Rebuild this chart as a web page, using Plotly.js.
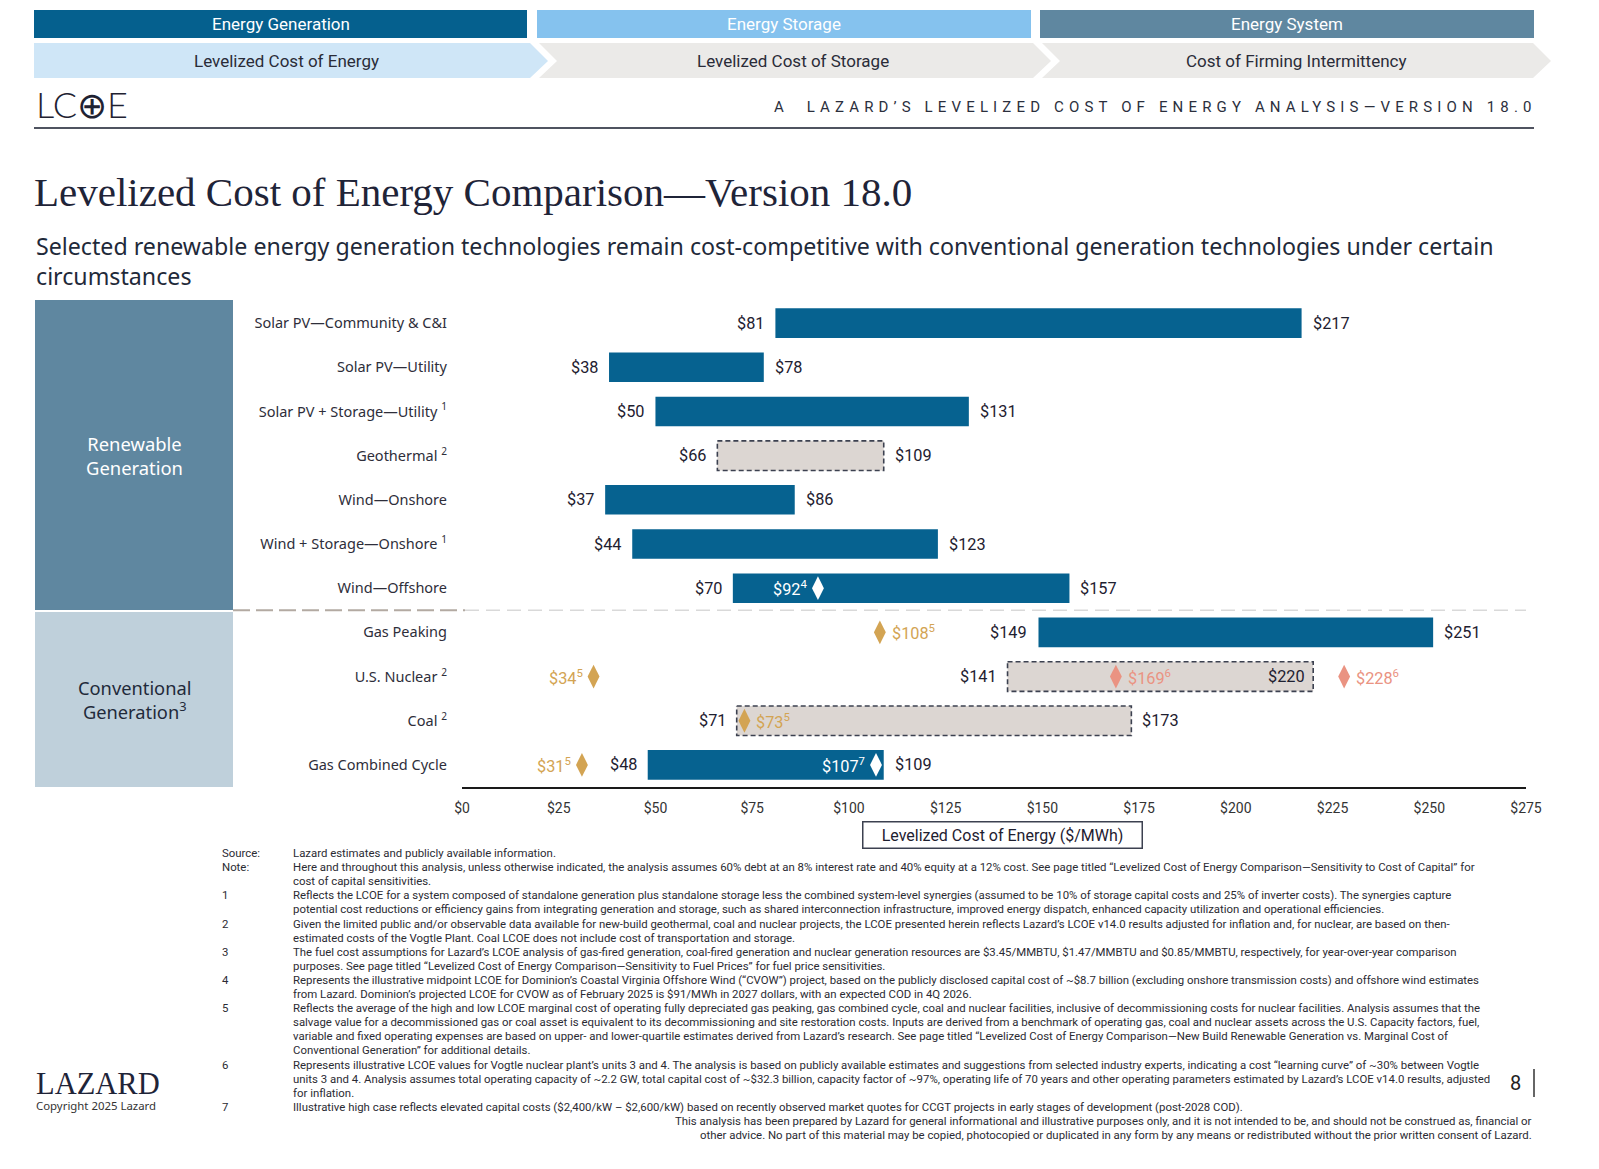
<!DOCTYPE html>
<html><head><meta charset="utf-8">
<script src="https://cdn.plot.ly/plotly-3.0.1.min.js"></script>
<style>html,body{margin:0;padding:0;background:#fff;}#chart{width:1599px;height:1169px;}</style>
</head><body><div id="chart"></div>
<script>
// ---------------- DATA ----------------
const categories = ["Solar PV—Community & C&I","Solar PV—Utility","Solar PV + Storage—Utility","Geothermal","Wind—Onshore","Wind + Storage—Onshore","Wind—Offshore","Gas Peaking","U.S. Nuclear","Coal","Gas Combined Cycle"];
const categoryNotes = ["","","1","2","","1","","","2","2",""];
const lowValues  = [81,38,50,66,37,44,70,149,141,71,48];
const highValues = [217,78,131,109,86,123,157,251,220,173,109];
const rangeType  = ["solid","solid","solid","dashed","solid","solid","solid","solid","dashed","dashed","solid"];
const groupNames = ["Renewable<br>Generation","Conventional<br>Generation<sup>3</sup>"];

const midpointCategories = ["Wind—Offshore","Gas Combined Cycle"];
const midpointValues = [92,107];
const midpointNotes  = ["4","7"];
const marginalCategories = ["Gas Peaking","U.S. Nuclear","Coal","Gas Combined Cycle"];
const marginalValues = [108,34,73,31];
const marginalNotes  = ["5","5","5","5"];
const vogtleCategories = ["U.S. Nuclear","U.S. Nuclear"];
const vogtleValues = [169,228];
const vogtleNotes  = ["6","6"];

const xTickValues = [0,25,50,75,100,125,150,175,200,225,250,275];
const xTickLabels = ["$0","$25","$50","$75","$100","$125","$150","$175","$200","$225","$250","$275"];

const headerTabs = ["Energy Generation","Energy Storage","Energy System"];
const headerSteps = ["Levelized Cost of Energy","Levelized Cost of Storage","Cost of Firming Intermittency"];

const footnotes = [
 ["Source:","Lazard estimates and publicly available information."],
 ["Note:","Here and throughout this analysis, unless otherwise indicated, the analysis assumes 60% debt at an 8% interest rate and 40% equity at a 12% cost. See page titled “Levelized Cost of Energy Comparison—Sensitivity to Cost of Capital” for"],
 ["","cost of capital sensitivities."],
 ["1","Reflects the LCOE for a system composed of standalone generation plus standalone storage less the combined system-level synergies (assumed to be 10% of storage capital costs and 25% of inverter costs). The synergies capture"],
 ["","potential cost reductions or efficiency gains from integrating generation and storage, such as shared interconnection infrastructure, improved energy dispatch, enhanced capacity utilization and operational efficiencies."],
 ["2","Given the limited public and/or observable data available for new-build geothermal, coal and nuclear projects, the LCOE presented herein reflects Lazard’s LCOE v14.0 results adjusted for inflation and, for nuclear, are based on then-"],
 ["","estimated costs of the Vogtle Plant. Coal LCOE does not include cost of transportation and storage."],
 ["3","The fuel cost assumptions for Lazard’s LCOE analysis of gas-fired generation, coal-fired generation and nuclear generation resources are $3.45/MMBTU, $1.47/MMBTU and $0.85/MMBTU, respectively, for year-over-year comparison"],
 ["","purposes. See page titled “Levelized Cost of Energy Comparison—Sensitivity to Fuel Prices” for fuel price sensitivities."],
 ["4","Represents the illustrative midpoint LCOE for Dominion’s Coastal Virginia Offshore Wind (“CVOW”) project, based on the publicly disclosed capital cost of ~$8.7 billion (excluding onshore transmission costs) and offshore wind estimates"],
 ["","from Lazard. Dominion’s projected LCOE for CVOW as of February 2025 is $91/MWh in 2027 dollars, with an expected COD in 4Q 2026."],
 ["5","Reflects the average of the high and low LCOE marginal cost of operating fully depreciated gas peaking, gas combined cycle, coal and nuclear facilities, inclusive of decommissioning costs for nuclear facilities. Analysis assumes that the"],
 ["","salvage value for a decommissioned gas or coal asset is equivalent to its decommissioning and site restoration costs. Inputs are derived from a benchmark of operating gas, coal and nuclear assets across the U.S. Capacity factors, fuel,"],
 ["","variable and fixed operating expenses are based on upper- and lower-quartile estimates derived from Lazard’s research. See page titled “Levelized Cost of Energy Comparison—New Build Renewable Generation vs. Marginal Cost of"],
 ["","Conventional Generation” for additional details."],
 ["6","Represents illustrative LCOE values for Vogtle nuclear plant’s units 3 and 4. The analysis is based on publicly available estimates and suggestions from selected industry experts, indicating a cost “learning curve” of ~30% between Vogtle"],
 ["","units 3 and 4. Analysis assumes total operating capacity of ~2.2 GW, total capital cost of ~$32.3 billion, capacity factor of ~97%, operating life of 70 years and other operating parameters estimated by Lazard’s LCOE v14.0 results, adjusted"],
 ["","for inflation."],
 ["7","Illustrative high case reflects elevated capital costs ($2,400/kW – $2,600/kW) based on recently observed market quotes for CCGT projects in early stages of development (post-2028 COD)."]
];
const disclaimer = [
 "This analysis has been prepared by Lazard for general informational and illustrative purposes only, and it is not intended to be, and should not be construed as, financial or",
 "other advice. No part of this material may be copied, photocopied or duplicated in any form by any means or redistributed without the prior written consent of Lazard."
];

// ---------------- STYLE / LAYOUT ----------------
const W=1599, H=1169, L=462, R=1526, T=301, B=787;
const px = X => (X-L)/(R-L);
const py = Y => (B-Y)/(B-T);
const BLUE="#066290", GOLD="#D3A453", PINK="#EA9382", BOXFILL="#DCD6D2", INK="#1E2030";
const SANS="Roboto, 'Liberation Sans', sans-serif";
const NOTO="'Noto Sans', 'Open Sans', sans-serif";
const halfBar = 0.335;
const highInside = categories.map(c => c === "U.S. Nuclear");

const idx = c => categories.indexOf(c);
const sup = n => n ? "<sup>"+n+"</sup>" : "";

const traces = [];
const solid = categories.map((c,i)=>i).filter(i=>rangeType[i]==="solid");
traces.push({type:"bar", orientation:"h", y: solid, base: solid.map(i=>lowValues[i]),
  x: solid.map(i=>highValues[i]-lowValues[i]), width: 2*halfBar,
  marker:{color:BLUE, line:{width:0}}, hoverinfo:"skip", showlegend:false});
categories.forEach((c,i)=>{
  if (rangeType[i]!=="dashed") return;
  traces.push({type:"scatter", mode:"lines", x:[lowValues[i],highValues[i],highValues[i],lowValues[i],lowValues[i]],
    y:[i-halfBar,i-halfBar,i+halfBar,i+halfBar,i-halfBar], fill:"toself", fillcolor:BOXFILL,
    line:{color:"#3C4150", width:1.6, dash:"5px,3px"}, hoverinfo:"skip", showlegend:false});
});
function markerTrace(cats, vals, color){
  return {type:"scatter", mode:"markers", x: vals, y: cats.map(idx),
    marker:{symbol:"diamond-tall", size:17, color:color, line:{width:0}}, hoverinfo:"skip", showlegend:false};
}
traces.push(markerTrace(midpointCategories, midpointValues, "#FFFFFF"));
traces.push(markerTrace(marginalCategories, marginalValues, GOLD));
traces.push(markerTrace(vogtleCategories, vogtleValues, PINK));

const shapes = [];
const ann = [];
function rectPx(x0,y0,x1,y1,color){ shapes.push({type:"rect", xref:"paper", yref:"paper", x0:px(x0), x1:px(x1), y0:py(y1), y1:py(y0), fillcolor:color, line:{width:0}, layer:"below"}); }
function pathPx(pts,color){ shapes.push({type:"path", xref:"paper", yref:"paper", path:"M"+pts.map(p=>px(p[0])+","+py(p[1])).join(" L")+" Z", fillcolor:color, line:{width:0}, layer:"below"}); }
function linePx(x0,y0,x1,y1,color,width,dash){ shapes.push({type:"line", xref:"paper", yref:"paper", x0:px(x0), x1:px(x1), y0:py(y0), y1:py(y1), line:{color:color,width:width,dash:dash||"solid"}}); }
function textPx(x,y,text,font,xanchor,extra){ ann.push(Object.assign({xref:"paper", yref:"paper", x:px(x), y:py(y), text:text, showarrow:false, xanchor:xanchor||"center", yanchor:"middle", font:Object.assign({},font)}, extra||{})); }

// header tabs
const tabColors=["#05608E","#85C2EE","#5F87A0"];
const tabX=[[34,527],[537,1031],[1040,1534]];
headerTabs.forEach((t,k)=>{ rectPx(tabX[k][0],10,tabX[k][1],38,tabColors[k]);
  textPx((tabX[k][0]+tabX[k][1])/2,24,t,{family:SANS,size:17,color:"#FFFFFF"}); });
// chevrons
pathPx([[34,43],[530,43],[548,61],[530,78],[34,78]],"#CFE6F7");
pathPx([[539,43],[1033,43],[1051,61],[1033,78],[539,78],[557,61]],"#EBEAE8");
pathPx([[1042,43],[1533,43],[1551,61],[1533,78],[1042,78],[1060,61]],"#EBEAE8");
const stepX=[286,793,1296];
headerSteps.forEach((t,k)=> textPx(stepX[k],61,t,{family:SANS,size:17,color:"#2A2C38"}));
// LCOE logo and series caption
textPx(34,104,"LC⊕E",{family:"Lato, 'DejaVu Sans'",size:36,color:"#1F2232",weight:300},"left");
textPx(772,107,"A  LAZARD’S LEVELIZED COST OF ENERGY ANALYSIS—VERSION 18.0",{family:SANS,size:15,color:"#2B2F3D"},"left",{align:"left"});
const captionIndex = ann.length-1;
linePx(34,128,1534,128,"#4F5360",2);
// subtitle
textPx(34,261,"Selected renewable energy generation technologies remain cost-competitive with conventional generation technologies under certain<br>circumstances",
  {family:NOTO,size:23.2,color:"#1F2A3A"},"left",{align:"left"});
// group panels
rectPx(35,300,233,610,"#5F87A0");
rectPx(35,612,233,787,"#BFD0DB");
textPx(134,455,groupNames[0],{family:NOTO,size:18.4,color:"#FFFFFF"});
textPx(134,699,groupNames[1],{family:NOTO,size:18.3,color:"#1F2A3A"});
// separator
shapes.push({type:"line", xref:"paper", yref:"y", x0:px(233), x1:px(465), y0:6.5, y1:6.5, line:{color:"#B3AAA2", width:2, dash:"17px,6px"}});
shapes.push({type:"line", xref:"paper", yref:"y", x0:px(465), x1:px(1526), y0:6.5, y1:6.5, line:{color:"#D9D9D9", width:1.5, dash:"14px,7px"}});

// value labels
const vFont={family:SANS,size:16.3,color:INK};
categories.forEach((c,i)=>{
  ann.push({xref:"x",yref:"y",x:lowValues[i],y:i,text:"$"+lowValues[i],showarrow:false,xanchor:"right",xshift:-9,font:Object.assign({},vFont)});
  ann.push({xref:"x",yref:"y",x:highValues[i],y:i,text:"$"+highValues[i],showarrow:false,
    xanchor:highInside[i]?"right":"left",xshift:highInside[i]?-6:9,font:Object.assign({},vFont)});
});
// marker labels
function markerLabels(cats, vals, notes, color, sides){
  cats.forEach((c,k)=>{
    const right = sides[k]==="r";
    ann.push({xref:"x",yref:"y",x:vals[k],y:idx(c),text:"$"+vals[k]+sup(notes[k]),showarrow:false,
      xanchor: right?"left":"right", xshift: right?10:-9, font:{family:SANS,size:16.3,color:color}});
  });
}
markerLabels(midpointCategories, midpointValues, midpointNotes, "#FFFFFF", ["l","l"]);
markerLabels(marginalCategories, marginalValues, marginalNotes, GOLD, ["r","l","r","l"]);
markerLabels(vogtleCategories, vogtleValues, vogtleNotes, PINK, ["r","r"]);

// axis title box
textPx(1002,835,"Levelized Cost of Energy ($/MWh)",{family:SANS,size:16,color:INK},"center",
  {bordercolor:"#3C4150",borderwidth:1.5,borderpad:3,bgcolor:"#FFFFFF",width:272});

// footnotes
const fnFont={family:SANS,size:11.4,color:"#2B2B33"};
footnotes.forEach((f,k)=>{
  const y = 853 + 14.1*k;
  if (f[0]) textPx(220,y,f[0],fnFont,"left");
  textPx(291,y,f[1],fnFont,"left");
});
disclaimer.forEach((d,k)=> textPx(1534,1121+14.1*k,d,fnFont,"right"));

// Lazard logo, copyright, page number
textPx(34,1084,"LAZARD",{family:"'Liberation Serif', serif",size:30.5,color:"#1F2438"},"left");
textPx(34,1105,"Copyright 2025 Lazard",{family:NOTO,size:11.4,color:"#333"},"left");
textPx(1515,1083,"8",{family:SANS,size:20,color:"#222"});
linePx(1534,1069,1534,1097,"#333",1.5);

const layout = {
  width:W, height:H, autosize:false,
  margin:{l:L, r:W-R, t:T, b:H-B, pad:0},
  paper_bgcolor:"#FFFFFF", plot_bgcolor:"rgba(0,0,0,0)",
  showlegend:false, barmode:"overlay",
  title:{text:"Levelized Cost of Energy Comparison—Version 18.0", xref:"container", yref:"container",
    x:34/W, xanchor:"left", y:1-192/H, yanchor:"middle",
    font:{family:"'Liberation Serif', 'DejaVu Serif', serif", size:41, color:"#1F2438"}},
  xaxis:{range:[0,275], tickvals:xTickValues, ticktext:xTickLabels, showgrid:false, zeroline:false,
    showline:true, linecolor:"#1A1A1A", linewidth:1.5, ticks:"", ticklabelstandoff:8,
    tickfont:{family:SANS,size:14,color:"#333"}, fixedrange:true},
  yaxis:{range:[10.5,-0.5], tickvals:categories.map((c,i)=>i), ticktext:categories.map((c,i)=>c+(categoryNotes[i]?" "+sup(categoryNotes[i]):"")),
    showgrid:false, zeroline:false, showline:false, ticks:"", ticklabelstandoff:14,
    tickfont:{family:NOTO,size:14.5,color:"#2E2E3A"}, fixedrange:true},
  shapes:shapes, annotations:ann
};
Plotly.newPlot("chart", traces, layout, {displayModeBar:false, staticPlot:true}).then(gd=>{
  const g = gd.querySelector('g.annotation[data-index="'+captionIndex+'"] text');
  if (g) g.style.letterSpacing = "5.15px";
});
</script></body></html>
